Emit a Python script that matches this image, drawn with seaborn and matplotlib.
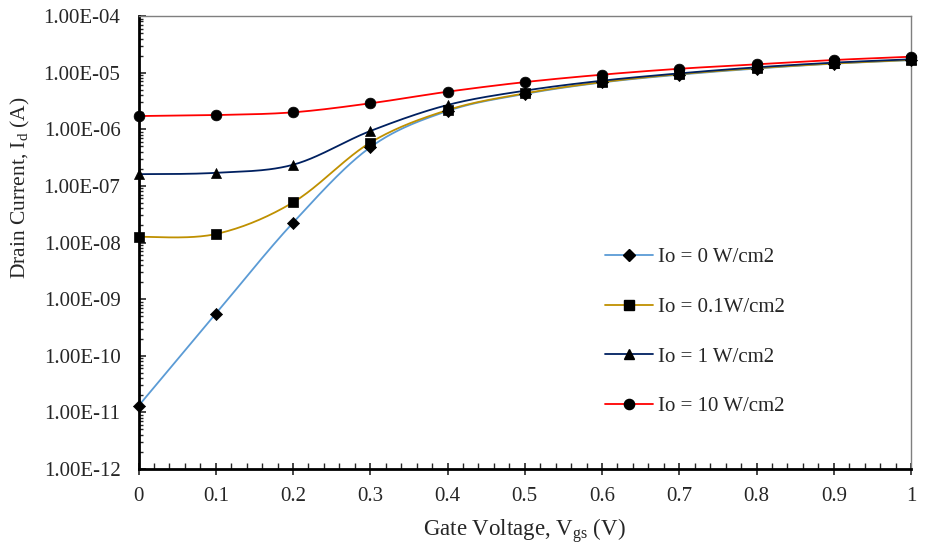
import numpy as np
import pandas as pd
import matplotlib
matplotlib.use("Agg")
import matplotlib.pyplot as plt
from matplotlib.lines import Line2D
from matplotlib.ticker import FixedLocator, FuncFormatter, LogLocator, NullFormatter, MultipleLocator
import seaborn as sns

# ---- data ----
vgs = [0.0, 0.1, 0.2, 0.3, 0.4, 0.5, 0.6, 0.7, 0.8, 0.9, 1.0]
id_0 = [1.30e-11, 5.5e-10, 2.23e-8, 4.8e-7, 2.1e-6, 4.2e-6, 6.7e-6, 9.2e-6, 1.18e-5, 1.44e-5, 1.66e-5]
id_01 = [1.26e-8, 1.41e-8, 5.1e-8, 5.8e-7, 2.18e-6, 4.3e-6, 6.8e-6, 9.4e-6, 1.20e-5, 1.45e-5, 1.68e-5]
id_1 = [1.61e-7, 1.70e-7, 2.36e-7, 9.3e-7, 2.68e-6, 4.8e-6, 7.2e-6, 9.7e-6, 1.24e-5, 1.50e-5, 1.72e-5]
id_10 = [1.71e-6, 1.78e-6, 1.99e-6, 2.87e-6, 4.6e-6, 6.8e-6, 9.2e-6, 1.17e-5, 1.40e-5, 1.67e-5, 1.91e-5]
labels = ["Io = 0 W/cm2", "Io = 0.1W/cm2", "Io = 1 W/cm2", "Io = 10 W/cm2"]
colors = ["#5B9BD5", "#BF9000", "#002060", "#FF0000"]
markers = ["D", "s", "^", "o"]
msizes = [38, 48, 52, 60]
ytick_vals = [1e-12, 1e-11, 1e-10, 1e-9, 1e-8, 1e-7, 1e-6, 1e-5, 1e-4]
xtick_vals = [0, 0.1, 0.2, 0.3, 0.4, 0.5, 0.6, 0.7, 0.8, 0.9, 1.0]

series = [id_0, id_01, id_1, id_10]

sns.set_style("white")
plt.rcParams["font.family"] = ["Liberation Serif", "DejaVu Serif"]
plt.rcParams["mathtext.default"] = "regular"


def smooth(x, y, n=40):
    """Excel-like smoothed line (Catmull-Rom Bezier) in (x, log10 y) space."""
    P = np.column_stack([np.asarray(x, float), np.log10(np.asarray(y, float))])
    out = []
    for i in range(len(P) - 1):
        p0 = P[i - 1] if i > 0 else P[i]
        p3 = P[i + 2] if i + 2 < len(P) else P[i + 1]
        p1, p2 = P[i], P[i + 1]
        c1 = p1 + (p2 - p0) / 6.0
        c2 = p2 - (p3 - p1) / 6.0
        t = np.linspace(0, 1, n)[:, None]
        seg = (1 - t) ** 3 * p1 + 3 * (1 - t) ** 2 * t * c1 + 3 * (1 - t) * t ** 2 * c2 + t ** 3 * p2
        out.append(seg if i == 0 else seg[1:])
    S = np.vstack(out)
    return S[:, 0], 10 ** S[:, 1]


fig = plt.figure(figsize=(9.25, 5.47), dpi=100)
ax = fig.add_axes([138.5 / 925, 1 - 469 / 547, (911 - 138.5) / 925, (469 - 16) / 547])

for ys, lab, col, mk, ms in zip(series, labels, colors, markers, msizes):
    sx, sy = smooth(vgs, ys)
    sns.lineplot(x=sx, y=sy, ax=ax, color=col, linewidth=1.3, sort=False,
                 estimator=None, legend=False)
    sns.scatterplot(x=vgs, y=ys, ax=ax, marker=mk, s=ms, color="black",
                    edgecolor="black", linewidth=0.5, legend=False, zorder=5, clip_on=False)

ax.set_yscale("log")
ax.set_ylim(1e-12, 1e-4)
ax.set_xlim(0, 1)

ax.yaxis.set_major_locator(FixedLocator(ytick_vals))
ax.yaxis.set_major_formatter(FuncFormatter(lambda v, p: f"{v:.2E}"))
ax.yaxis.set_minor_locator(LogLocator(base=10, subs=np.arange(2, 10), numticks=100))
ax.yaxis.set_minor_formatter(NullFormatter())

ax.xaxis.set_major_locator(FixedLocator(xtick_vals))
ax.xaxis.set_major_formatter(FuncFormatter(lambda v, p: f"{v:g}"))
ax.xaxis.set_minor_locator(MultipleLocator(0.02))

ax.tick_params(axis="y", which="major", direction="in", length=5, width=1.2, pad=13,
               labelsize=15, left=True)
ax.tick_params(axis="y", which="minor", direction="in", length=3, width=1.0, left=True)
ax.tick_params(axis="x", which="major", direction="inout", length=8, width=1.2, pad=9,
               labelsize=15, bottom=True)
ax.tick_params(axis="x", which="minor", direction="in", length=4, width=1.0, bottom=True)

for side in ["left", "bottom"]:
    ax.spines[side].set_color("black")
    ax.spines[side].set_linewidth(2.0)
for side in ["top", "right"]:
    ax.spines[side].set_visible(True)
    ax.spines[side].set_color("#7f7f7f")
    ax.spines[side].set_linewidth(1.0)

ax.set_xlabel("Gate Voltage, V$_{gs}$ (V)", fontsize=16.5, labelpad=7)
ax.set_ylabel("Drain Current, I$_{d}$ (A)", fontsize=15.5)
ax.yaxis.set_label_coords((32 - 138.5) / 772.5, (469 - 188) / 453)

handles = [Line2D([0], [0], color=c, lw=1.3, marker=m, markersize=ms ** 0.5 * 0.95,
                  markerfacecolor="black", markeredgecolor="black")
           for c, m, ms in zip(colors, markers, msizes)]
fig.legend(handles, labels, loc="center left", bbox_to_anchor=(605 / 925, 1 - 332 / 547),
           frameon=False, fontsize=15, handlelength=2.3, handletextpad=0.25,
           labelspacing=1.45, borderpad=0, borderaxespad=0)

fig.savefig("out.png", dpi=100)
